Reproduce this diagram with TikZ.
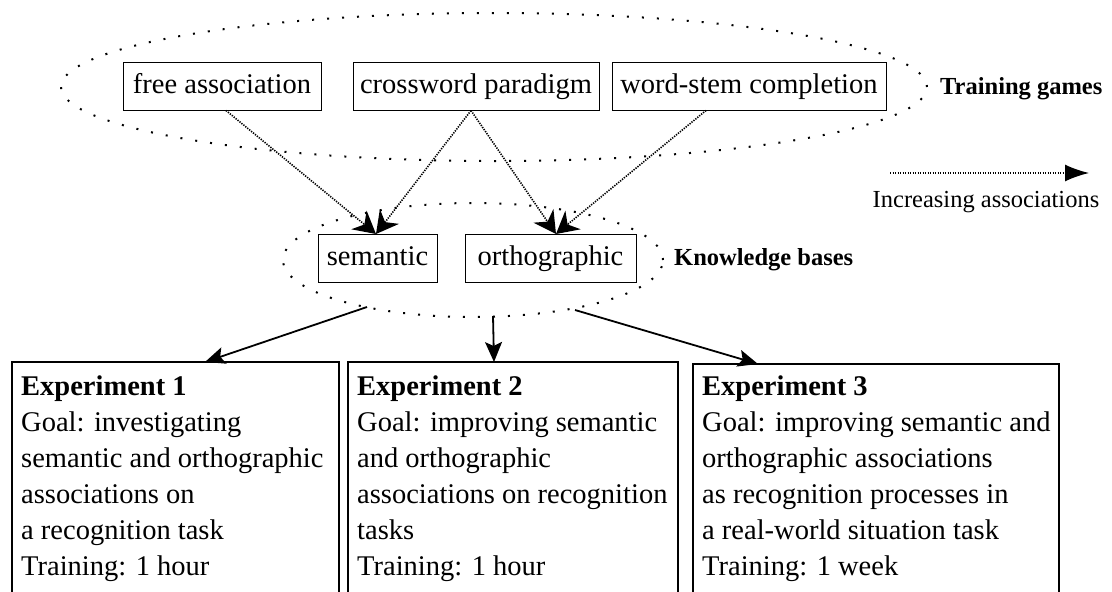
\documentclass[tikz,border=0pt]{standalone}
\usepackage{fontspec}
\setmainfont{Liberation Serif}
\usetikzlibrary{arrows.meta,shapes.geometric}
\begin{document}
\begin{tikzpicture}[x=1pt,y=-1pt,
  game/.style={draw,line width=1pt,minimum height=48pt,inner xsep=0pt,text height=20pt,text depth=6pt,anchor=center,font=\fontsize{28.5}{34}\selectfont},
  group/.style={draw,line width=2pt,dash pattern=on 2pt off 13pt,ellipse,inner sep=0pt},
  grouplabel/.style={font=\bfseries\fontsize{24.5}{30}\selectfont,anchor=base west,inner sep=0pt},
  assoc/.style={line width=1.6pt,dash pattern=on 1.3pt off 1.2pt,-{Stealth[length=22pt,width=24pt,inset=7pt]}},
  flow/.style={line width=1.8pt,-{Stealth[length=20pt,width=17pt,inset=4pt]}},
  expframe/.style={line width=2.2pt},
  exptext/.style={anchor=north west,align=left,inner sep=0pt,font=\fontsize{28.5}{36}\selectfont}
]
\useasboundingbox (0,0) rectangle (1112,592);
\begin{scope}
\clip (0,0) rectangle (1112,592);

% training games
\node[group,minimum width=866pt,minimum height=148pt] (games) at (494,87) {};
\node[game,minimum width=198pt] (free) at (222,86) {free association};
\node[game,minimum width=246pt] (cross) at (476,86) {crossword paradigm};
\node[game,minimum width=274pt] (stem) at (749,86) {word-stem completion};
\node[grouplabel] (gameslbl) at (940,94) {Training games};

% legend arrow
\coordinate (legA) at (890,173);
\coordinate (legB) at (1089,173);
\draw[line width=1.6pt,dash pattern=on 1.3pt off 1.2pt,-{Latex[length=24pt,width=17pt]}] (legA) -- (legB);
\node[font=\fontsize{24.5}{30}\selectfont,anchor=base,inner sep=0pt] (legtxt) at (986,207) {Increasing associations};

% knowledge bases
\node[group,minimum width=380pt,minimum height=114pt] (kb) at (473,260) {};
\node[game,minimum width=119pt] (sem) at (377.5,258) {semantic};
\node[game,minimum width=171pt] (orth) at (550.5,258) {orthographic};
\node[grouplabel] (kblbl) at (674,265) {Knowledge bases};

% associations from games to knowledge bases
\coordinate (semtip) at (376,234);
\coordinate (orthtip) at (556,234);
\draw[assoc] (free.south -| 226,0) -- (semtip);
\draw[assoc] (cross.south -| 471,0) -- (semtip);
\draw[assoc] (cross.south -| 471,0) -- (orthtip);
\draw[assoc] (stem.south -| 706,0) -- (orthtip);

% experiments (frames run past the lower edge)
\draw[expframe] (12,620) |- (339,362) -- (339,620);
\draw[expframe] (348,620) |- (678,362) -- (678,620);
\draw[expframe] (693,620) |- (1059,364) -- (1059,620);
\coordinate (e1) at (205,362);
\coordinate (e2) at (494,362);
\coordinate (e3) at (758,364);
\node[exptext] (x1) at (21,376) {\textbf{Experiment 1}\\Goal: investigating\\semantic and orthographic\\associations on\\a recognition task\\Training: 1 hour};
\node[exptext] (x2) at (357,376) {\textbf{Experiment 2}\\Goal: improving semantic\\and orthographic\\associations on recognition\\tasks\\Training: 1 hour};
\node[exptext] (x3) at (702,376) {\textbf{Experiment 3}\\Goal: improving semantic and\\orthographic associations\\as recognition processes in\\a real-world situation task\\Training: 1 week};

\draw[flow] (367,307) -- (e1);
\draw[flow] (493,316) -- (e2);
\draw[flow] (575,310) -- (e3);
\end{scope}
\end{tikzpicture}
\end{document}
